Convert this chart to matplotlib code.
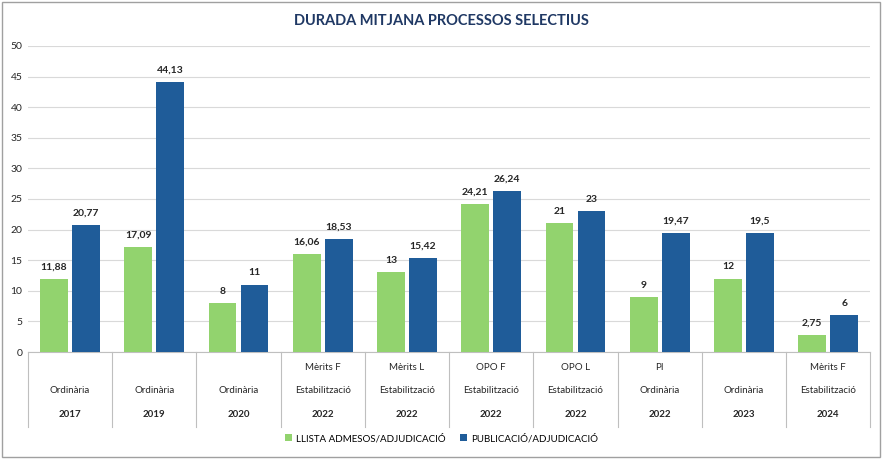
import matplotlib
matplotlib.use("Agg")
import matplotlib.pyplot as plt
from matplotlib.patches import Rectangle

plt.rcParams['font.family'] = ['Lato', 'DejaVu Sans']

line1 = ["", "", "", "Mèrits F", "Mèrits L", "OPO F", "OPO L", "PI", "", "Mèrits F"]
line2 = ["Ordinària", "Ordinària", "Ordinària", "Estabilització", "Estabilització",
         "Estabilització", "Estabilització", "Ordinària", "Ordinària", "Estabilització"]
years = ["2017", "2019", "2020", "2022", "2022", "2022", "2022", "2022", "2023", "2024"]
llista = [11.88, 17.09, 8, 16.06, 13, 24.21, 21, 9, 12, 2.75]
publicacio = [20.77, 44.13, 11, 18.53, 15.42, 26.24, 23, 19.47, 19.5, 6]
series_names = ["LLISTA ADMESOS/ADJUDICACIÓ", "PUBLICACIÓ/ADJUDICACIÓ"]

def fmt(v):
    s = f"{v:.2f}".rstrip("0").rstrip(".")
    return s.replace(".", ",")

green = "#92D36E"
blue = "#1F5C99"
txt = "#262626"

fig = plt.figure(figsize=(8.83, 4.59), dpi=100)
fig.patches.append(Rectangle((0.002, 0.004), 0.995, 0.992, transform=fig.transFigure,
                             fill=False, edgecolor="#A0A0A0", lw=1))
ax = fig.add_axes([0.0317, 0.233, 0.954, 0.667])
n = len(years)
x = list(range(n))
w = 0.33
bg = ax.bar([i - 0.19 for i in x], llista, w, color=green, label=series_names[0], zorder=3)
bb = ax.bar([i + 0.19 for i in x], publicacio, w, color=blue, label=series_names[1], zorder=3)
for rects, vals in ((bg, llista), (bb, publicacio)):
    for r, v in zip(rects, vals):
        ax.text(r.get_x() + r.get_width() / 2, v + 1.2, fmt(v), ha="center", va="bottom",
                fontsize=7.5, fontweight="bold", color=txt)

ax.set_xlim(-0.5, n - 0.5)
ax.set_ylim(0, 50)
ax.set_yticks(range(0, 51, 5))
ax.tick_params(axis="y", labelsize=7.5, length=0, labelcolor=txt, pad=4)
ax.set_xticks([])
ax.grid(axis="y", color="#D9D9D9", lw=0.8, zorder=0)
for s in ("top", "right"):
    ax.spines[s].set_visible(False)
ax.spines["left"].set_visible(False)
ax.spines["bottom"].set_color("#BFBFBF")

trans = ax.get_xaxis_transform()
for b in [i - 0.5 for i in range(n + 1)]:
    ax.plot([b, b], [0, -0.245], transform=trans, color="#BFBFBF", lw=0.8, clip_on=False)
for i in x:
    ax.text(i, -0.05, line1[i], transform=trans, ha="center", va="center", fontsize=7, color=txt)
    ax.text(i, -0.125, line2[i], transform=trans, ha="center", va="center", fontsize=7, color=txt)
    ax.text(i, -0.205, years[i], transform=trans, ha="center", va="center", fontsize=7,
            fontweight="bold", color=txt)

fig.text(0.5, 0.955, "DURADA MITJANA PROCESSOS SELECTIUS", ha="center", va="center",
         fontsize=10.5, fontweight="bold", color="#1F3864")
fig.legend(loc="center", bbox_to_anchor=(0.5, 0.045), ncol=2, frameon=False, fontsize=7,
           handlelength=0.7, handleheight=0.7, columnspacing=1.5, handletextpad=0.4)

fig.savefig("out.png", dpi=100)
